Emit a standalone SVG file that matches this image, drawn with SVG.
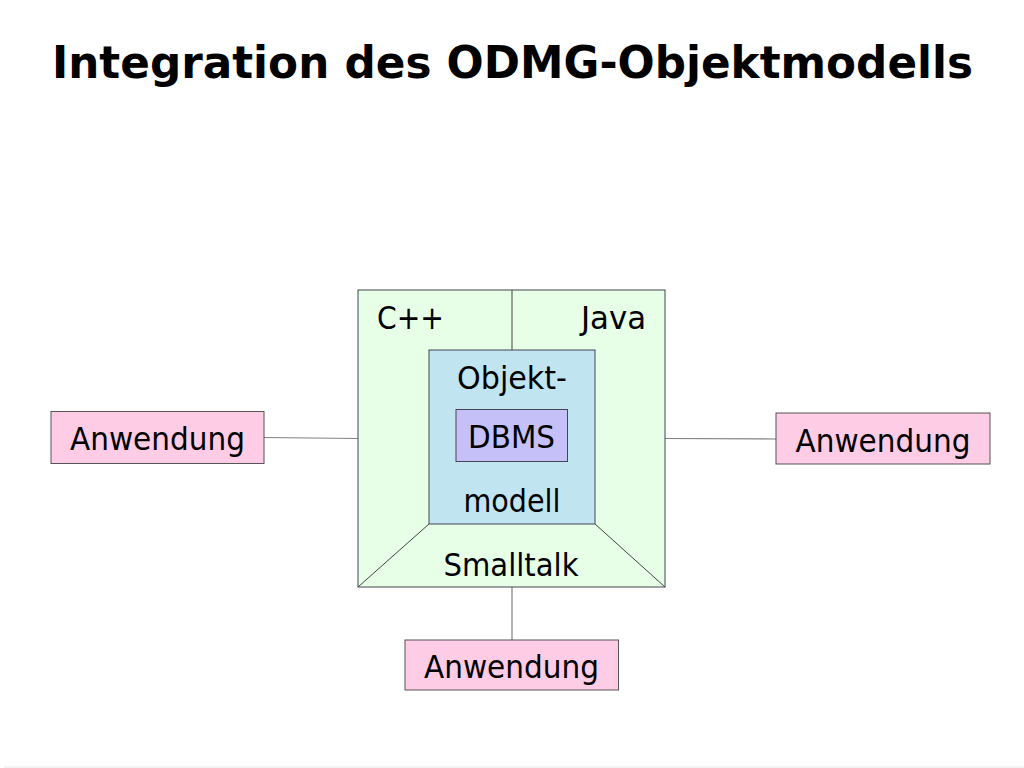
<svg xmlns="http://www.w3.org/2000/svg" width="1024" height="768" viewBox="0 0 1024 768">
<style>
.t{font-family:"DejaVu Sans","Verdana",sans-serif;font-size:32px;fill:#000}
.ttl{font-family:"DejaVu Sans","Verdana",sans-serif;font-weight:bold;font-size:45px;fill:#000}
.app{fill:#ffcce6;stroke:#555;stroke-width:1}
.con{stroke:#808080;stroke-width:1.2;fill:none}
.ln{stroke:#444;stroke-width:1;fill:none}
</style>
<rect width="1024" height="768" fill="#fff"/>
<text class="ttl" x="52" y="78" textLength="921" lengthAdjust="spacingAndGlyphs">Integration des ODMG-Objektmodells</text>
<g id="connectors">
<line class="con" x1="264" y1="437.5" x2="358" y2="438.5"/>
<line class="con" x1="665" y1="438.5" x2="776" y2="439"/>
<line class="con" x1="512" y1="587" x2="512" y2="640"/>
</g>
<g id="odmg">
<rect x="358" y="290" width="307" height="297" fill="#e6ffe6" stroke="#445" stroke-width="1"/>
<line class="ln" x1="512" y1="290" x2="512" y2="350"/>
<line class="ln" x1="429" y1="524" x2="358" y2="587"/>
<line class="ln" x1="595" y1="524" x2="665" y2="587"/>
<text class="t" x="377" y="329" textLength="67" lengthAdjust="spacingAndGlyphs">C++</text>
<text class="t" x="581" y="329" textLength="65" lengthAdjust="spacingAndGlyphs">Java</text>
<text class="t" x="511" y="576" text-anchor="middle" textLength="135" lengthAdjust="spacingAndGlyphs">Smalltalk</text>
</g>
<g id="objektmodell">
<rect x="429" y="350" width="166" height="174" fill="#c0e4f0" stroke="#445" stroke-width="1"/>
<text class="t" x="512" y="389" text-anchor="middle" textLength="110" lengthAdjust="spacingAndGlyphs">Objekt-</text>
<text class="t" x="512" y="512" text-anchor="middle" textLength="97" lengthAdjust="spacingAndGlyphs">modell</text>
</g>
<g id="dbms">
<rect x="456" y="409.5" width="111.5" height="52" fill="#c6c0f8" stroke="#445" stroke-width="1"/>
<text class="t" x="511.5" y="448" text-anchor="middle" textLength="87" lengthAdjust="spacingAndGlyphs">DBMS</text>
</g>
<g id="app-left">
<rect class="app" x="51" y="411.5" width="213" height="52"/>
<text class="t" x="157.5" y="450" text-anchor="middle" textLength="175" lengthAdjust="spacingAndGlyphs">Anwendung</text>
</g>
<g id="app-right">
<rect class="app" x="776" y="413" width="214" height="51"/>
<text class="t" x="883" y="451.5" text-anchor="middle" textLength="175" lengthAdjust="spacingAndGlyphs">Anwendung</text>
</g>
<g id="app-bottom">
<rect class="app" x="405" y="640" width="213.5" height="50"/>
<text class="t" x="511.5" y="678" text-anchor="middle" textLength="175" lengthAdjust="spacingAndGlyphs">Anwendung</text>
</g>
<line x1="4" y1="767" x2="1024" y2="767" stroke="#e8e8e8" stroke-width="1"/>
</svg>
